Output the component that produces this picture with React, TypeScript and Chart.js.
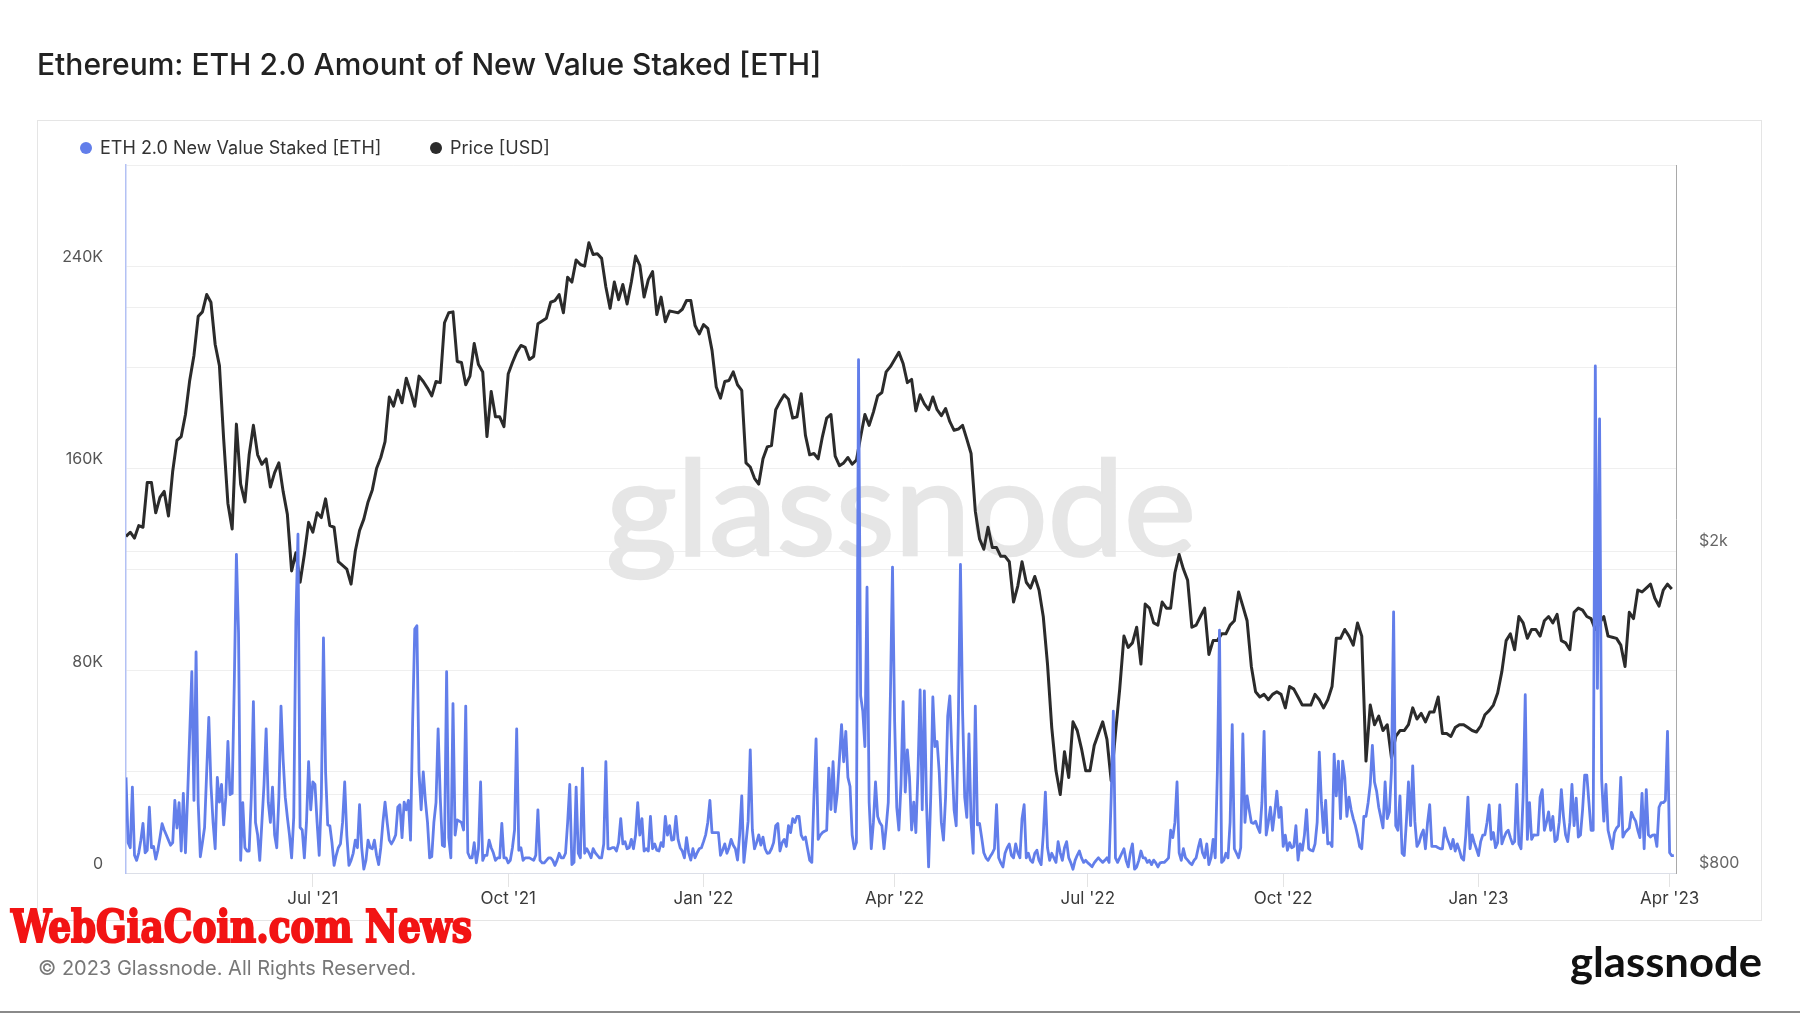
import React, { useEffect, useLayoutEffect, useRef } from "react";
import { Chart, registerables } from "chart.js";

Chart.register(...registerables);

// ---------- DATA ----------
const START_DATE = "2021-04-04";
const TOTAL_DAYS = 730;

const X_TICK_DATES = ["2021-07-01", "2021-10-01", "2022-01-01", "2022-04-01", "2022-07-01", "2022-10-01", "2023-01-01", "2023-04-01"];
const X_TICK_LABELS = ["Jul '21", "Oct '21", "Jan '22", "Apr '22", "Jul '22", "Oct '22", "Jan '23", "Apr '23"];

const STAKED_TICK_VALUES = [0, 80, 160, 240]; // thousand ETH
const STAKED_TICK_LABELS = ["0", "80K", "160K", "240K"];
const STAKED_MAX = 280;
const STAKED_STEP = 40;

const PRICE_GRID_VALUES = [800, 1000, 2000, 4000];
const PRICE_TICK_VALUES = [800, 2000];
const PRICE_TICK_LABELS = ["$800", "$2k"];
const PRICE_MIN = 800;
const PRICE_MAX = 6000;

// ETH 2.0 new value staked, daily, thousand ETH (day 0 = 2021-04-04)
const STAKED_K = [
  37.8, 12, 10, 34, 7, 5, 8, 13, 19.6, 8,
  9, 26, 10, 10.5, 5.5, 9, 14, 19.5, 17, 15,
  13, 11, 12, 28.7, 17.8, 27.8, 8.7, 31.5, 8, 30,
  55, 79.6, 28.7, 87.4, 27.8, 6.4, 12, 18, 40, 61.5,
  35, 20, 9.6, 37.8, 28, 35, 19, 30, 52, 31,
  31.5, 75, 126, 95, 5, 27.8, 10, 8.7, 8.7, 30,
  67.8, 20, 15, 5, 20, 35, 57, 28, 20, 34,
  15, 10, 30, 66, 45, 30, 22, 15, 6, 22,
  100, 134, 18, 17, 6, 20, 44, 25, 36, 35,
  20, 7, 30, 93, 40, 19, 18.7, 12, 3, 7,
  10, 11.5, 20, 36, 15, 3, 5, 7.8, 13, 10,
  27, 10, 1.5, 5, 13, 10, 9.6, 13, 7, 3.3,
  10, 20, 28, 20, 13, 11.5, 13, 15, 26, 27,
  14, 28, 25, 28.7, 13, 60, 96.5, 97.8, 40, 25,
  40, 28.7, 20, 6, 6.5, 20, 27.8, 57, 30, 11,
  10.5, 79.6, 14, 6, 67, 15, 21, 20.5, 20, 17,
  66, 8, 6, 6, 12, 4, 9.6, 36, 5, 7,
  7, 13, 10, 8, 5, 6, 6, 19.6, 6, 6,
  4, 5, 10, 17,
  57, 9, 10, 5, 6, 6,
  6, 5.5, 5, 7, 25, 5, 4, 4, 5, 6,
  6, 5, 3, 5, 7.8, 6, 6, 7.8, 20, 35,
  3.3, 4.2, 34, 7.8, 6, 41.5, 7.8, 9.6, 8, 6,
  9.6, 8, 7, 6, 6, 11.5, 44, 9.6, 9.6, 10,
  10, 8.7, 12, 21.5, 11.5, 12.4, 9.6, 10, 13.3, 9.6,
  15, 27.8, 15, 21.5, 8.7, 9.6, 8.7, 22.4, 9.6, 11.5,
  9, 8.7, 12, 10.5, 22.4, 15, 18.7, 13, 13.3, 22.4,
  13.3, 10, 8.7, 6, 14, 8, 5.1, 9.6, 6, 8,
  9.6, 10, 12.4, 15.1, 20, 28.7, 16, 16, 16, 16,
  7, 9, 11.5, 7.8, 10, 13.3, 11, 9.6, 5.1, 15,
  30.5, 4.2, 12, 20.5, 48.7, 17, 9.6, 12, 15.1, 11,
  14.2, 9.6, 7.8, 8, 9.6, 12, 18.7, 19.6, 8.7, 12,
  13.3, 10.5, 18.7, 16, 21.5, 20, 22.4, 22.4, 15, 13.3,
  14.2, 9.6, 5, 4.2, 30, 53, 13.3, 15, 16, 16.5,
  16.9, 41.5, 25.1, 44, 24.2, 31.5, 45, 58.7, 44, 56,
  37.8, 34.2, 15, 9.6, 12, 203, 70, 64, 50, 113,
  28, 9.6, 20, 36, 22.4, 20, 18.7, 9.6, 18, 27.8,
  70, 121, 60, 26, 17, 35, 67.8, 32, 48.7, 38,
  17, 28, 16, 40, 72.4, 25, 72, 28, 2.4, 30,
  69.6, 50, 52, 40, 20, 13, 30, 62, 70, 46,
  25, 18.7, 60, 122, 64, 30, 22, 55, 20, 7.8,
  66, 19, 19.6, 14, 8, 6, 5, 6.5, 7.8, 9.6,
  27, 6, 4, 2.4, 7.8, 10, 11.5, 7, 6, 11.5,
  8, 6, 21.5, 27, 6, 7.8, 5, 4.2, 7.8, 9,
  5, 3.3, 15, 32, 10, 5, 7.8, 6, 4.2, 12.4,
  8, 5, 10, 12.4, 6, 4, 1.5, 5, 7, 8.7,
  6, 4.2, 5, 4, 3.3, 2.5, 4, 5.1, 6, 5,
  4.2, 5, 6, 4.2, 30, 64, 6, 4.2, 6, 7.8,
  9.6, 5, 2.4, 8, 11.5, 1.5, 2.4, 5, 8.7, 6,
  6, 4.2, 5, 3.3, 5.1, 4, 2.4, 4, 4.2, 4.2,
  5, 6, 16.9, 14, 20, 36, 8, 5, 9.6, 6,
  5.1, 4, 3.3, 5, 6, 10, 13.3, 8, 6, 11.5,
  3.3, 6, 13.3, 6, 40, 96, 4.2, 5, 7.8, 6,
  20, 58.7, 9.6, 7.8, 6, 10, 55, 20, 30.5, 25,
  20, 19.6, 20.5, 18, 16, 28, 56, 15, 20, 26,
  16.9, 24, 32.4, 22, 26, 10.5, 15, 9, 12, 10,
  10.5, 18.7, 5.1, 11.5, 9, 15, 25.1, 9.6, 9, 8.7,
  11.5, 20, 47.8, 28, 16, 28.7, 11.5, 12, 10.5, 47,
  30.5, 44.2, 21.5, 44.2, 37.8, 22.4, 30, 25, 21.5, 18.7,
  15, 10.5, 9.6, 22.4, 22.4, 27.8, 35, 50.5, 36, 32.4,
  26, 22, 17.8, 36, 21.5, 24.2, 40.5, 103.3, 18.7, 16.9,
  30.5, 7.8, 6.9, 20, 36, 18.7, 42.4, 20.5, 10.5, 12,
  15.1, 17, 9.6, 20, 27, 10.5, 10.5, 10.5, 10, 9.6,
  9.6, 17.8, 14.2, 12, 9.6, 13.3, 8.7, 11.5, 9, 6,
  5.1, 15, 30, 9.6, 15.1, 12, 9.6, 6.9, 12.4, 15,
  15.1, 20, 26.9, 13.3, 16, 10, 12, 26.9, 11.5, 14,
  16, 16.9, 14, 11.5, 12.4, 35, 11.5, 9.6, 30, 70.5,
  13.3, 27.8, 13.3, 15.1, 15, 15.1, 30, 33, 16.9, 20,
  24.2, 16.9, 22.4, 12.4, 13.3, 20, 33, 22.4, 15.1, 12.4,
  20, 35, 18.7, 29.6, 14.2, 15, 25, 38.7, 38.7, 27.8,
  16.9, 16.9, 200.5, 73, 179.6, 36.9, 20.5, 35, 16.9, 13.3,
  9.6, 16, 17.8, 18.7, 37.8, 14.2, 16, 16.9, 17.8, 24,
  22, 20.5, 16.9, 14, 31.5, 9.6, 33, 15.1, 14.2, 15,
  15.1, 10.5, 26, 27.8, 27.8, 28.7, 56, 8, 6.9, 6.9,
];

// ETH price in USD, every 2 days (day 0 = 2021-04-04)
const PRICE_STEP_DAYS = 2;
const PRICE_USD = [
  // Apr 2021
  2085, 2110, 2075, 2150, 2140, 2430, 2430, 2230, 2330, 2370, 2210, 2510, 2740, 2770,
  // May
  2950, 3250, 3490, 3900, 3950, 4150, 4060, 3600, 3390, 2750, 2290, 2130, 2870, 2420, 2300,
  // Jun
  2630, 2860, 2630, 2560, 2600, 2400, 2500, 2570, 2370, 2220, 1890, 1990, 1830, 1980, 2170,
  // Jul
  2110, 2230, 2200, 2320, 2150, 2140, 1940, 1920, 1900, 1820, 2000, 2120, 2190, 2300, 2380, 2530,
  // Aug
  2610, 2730, 3100, 3020, 3160, 3050, 3270, 3150, 3020, 3290, 3240, 3180, 3110, 3240, 3230,
  // Sep
  3830, 3940, 3950, 3430, 3420, 3210, 3290, 3610, 3400, 3330, 2770, 3150, 2930, 2930, 2850,
  // Oct
  3310, 3420, 3520, 3590, 3570, 3450, 3480, 3820, 3850, 3880, 4060, 4080, 4150, 3940, 4360, 4300,
  // Nov
  4580, 4520, 4500, 4810, 4650, 4660, 4600, 4240, 3990, 4300, 4090, 4270, 4040, 4300, 4630,
  // Dec
  4510, 4120, 4330, 4430, 3920, 4120, 3840, 3960, 3950, 3940, 3980, 4080, 4080, 3800, 3710,
  // Jan 2022
  3810, 3770, 3540, 3190, 3090, 3240, 3250, 3330, 3210, 3160, 2570, 2540, 2460, 2420, 2600, 2690,
  // Feb
  2700, 2990, 3060, 3120, 3080, 2920, 2930, 3130, 2780, 2630, 2640, 2600, 2770, 2920,
  // Mar
  2950, 2620, 2550, 2570, 2610, 2560, 2590, 2770, 2950, 2860, 2970, 3110, 3140, 3330, 3380,
  // Apr
  3450, 3520, 3410, 3230, 3260, 2980, 3120, 3040, 2990, 3100, 2990, 2940, 3000, 2890, 2820,
  // May
  2830, 2860, 2750, 2640, 2240, 2070, 2010, 2140, 2020, 2020, 1970, 1970, 1940, 1730, 1810, 1940,
  // Jun
  1830, 1800, 1860, 1790, 1660, 1450, 1210, 1070, 1000, 1130, 1050, 1230, 1200, 1140, 1070,
  // Jul
  1070, 1150, 1190, 1230, 1170, 1040, 1190, 1350, 1570, 1520, 1540, 1610, 1450, 1720, 1700,
  // Aug
  1630, 1620, 1730, 1700, 1700, 1880, 1980, 1900, 1840, 1610, 1620, 1660, 1700, 1490, 1550, 1550,
  // Sep
  1580, 1580, 1620, 1640, 1780, 1710, 1640, 1440, 1340, 1320, 1330, 1310, 1330, 1340, 1330,
  // Oct
  1280, 1360, 1350, 1320, 1290, 1290, 1290, 1330, 1310, 1280, 1310, 1360, 1560, 1560, 1600,
  // Nov
  1570, 1530, 1630, 1570, 1100, 1290, 1220, 1250, 1200, 1220, 1110, 1180, 1200, 1200, 1220,
  // Dec
  1280, 1240, 1260, 1230, 1265, 1265, 1320, 1190, 1190, 1180, 1210, 1220, 1220, 1210, 1200, 1195,
  // Jan 2023
  1215, 1255, 1270, 1290, 1335, 1420, 1550, 1580, 1510, 1660, 1630, 1560, 1600, 1600, 1570,
  // Feb
  1640, 1660, 1630, 1670, 1550, 1540, 1510, 1680, 1700, 1690, 1660, 1650, 1600, 1630,
  // Mar
  1660, 1570, 1565, 1560, 1530, 1440, 1680, 1650, 1790, 1780, 1800, 1820, 1750, 1710, 1790, 1820,
  // Apr
  1795,
];

const TITLE = "Ethereum: ETH 2.0 Amount of New Value Staked [ETH]";
const SERIES_NAMES = ["ETH 2.0 New Value Staked [ETH]", "Price [USD]"];
const SERIES_COLORS = ["#627EEA", "#2b2b2b"];

// ---------- HELPERS ----------
const dayOffset = (d: string) => Math.round((Date.parse(d) - Date.parse(START_DATE)) / 86400000);
const X_TICK_DAYS = X_TICK_DATES.map(dayOffset);

const FONT = "Inter, 'Noto Sans', sans-serif";

const watermarkPlugin = {
  id: "glassnodeWatermark",
  beforeDatasetsDraw(chart: any) {
    const { ctx, chartArea } = chart;
    ctx.save();
    ctx.font = "400 132px Lato, 'Noto Sans', sans-serif";
    ctx.fillStyle = "#e6e6e6";
    ctx.textAlign = "left";
    ctx.textBaseline = "alphabetic";
    const text = "glassnode";
    const w = ctx.measureText(text).width;
    const targetW = 590;
    const cx = (chartArea.left + chartArea.right) / 2;
    ctx.translate(cx - targetW / 2, chartArea.top + 390);
    ctx.scale(targetW / w, 1);
    ctx.lineWidth = 2.5;
    ctx.strokeStyle = "#e6e6e6";
    ctx.strokeText(text, 0, 0);
    ctx.fillText(text, 0, 0);
    ctx.restore();
  },
};

function FitText(props: { text: string; width: number; style: React.CSSProperties; origin?: string }) {
  const ref = useRef<HTMLDivElement | null>(null);
  useLayoutEffect(() => {
    const el = ref.current;
    if (!el) return;
    el.style.transform = "none";
    const w = el.getBoundingClientRect().width;
    if (w > 0) el.style.transform = `scaleX(${props.width / w})`;
  }, [props.text, props.width]);
  return (
    <div
      ref={ref}
      style={{ position: "absolute", whiteSpace: "nowrap", transformOrigin: props.origin || "left top", ...props.style }}
    >
      {props.text}
    </div>
  );
}

export default function App() {
  const canvasRef = useRef<HTMLCanvasElement | null>(null);

  useEffect(() => {
    const canvas = canvasRef.current;
    if (!canvas) return;
    const stakedData = STAKED_K.map((v, i) => ({ x: i, y: v }));
    const priceData = PRICE_USD.map((v, i) => ({ x: i * PRICE_STEP_DAYS, y: v }));

    const chart = new Chart(canvas, {
      type: "line",
      data: {
        datasets: [
          {
            label: SERIES_NAMES[0],
            data: stakedData,
            yAxisID: "yStaked",
            borderColor: SERIES_COLORS[0],
            backgroundColor: SERIES_COLORS[0],
            borderWidth: 2.8,
            pointRadius: 0,
            tension: 0,
            borderJoinStyle: "round",
            fill: false,
          },
          {
            label: SERIES_NAMES[1],
            data: priceData,
            yAxisID: "yPrice",
            borderColor: SERIES_COLORS[1],
            backgroundColor: SERIES_COLORS[1],
            borderWidth: 3,
            pointRadius: 0,
            tension: 0,
            borderJoinStyle: "round",
            fill: false,
          },
        ],
      },
      options: {
        animation: false,
        responsive: false,
        devicePixelRatio: 1,
        layout: { padding: { left: 36, right: 44, top: 165, bottom: 100 } },
        plugins: { legend: { display: false }, tooltip: { enabled: false } },
        scales: {
          x: {
            type: "linear",
            min: 0,
            max: TOTAL_DAYS,
            afterBuildTicks: (scale: any) => {
              scale.ticks = X_TICK_DAYS.map((v) => ({ value: v }));
            },
            afterFit: (scale: any) => {
              scale.height = 40;
            },
            ticks: {
              autoSkip: false,
              maxRotation: 0,
              padding: 2,
              color: "#3a3a3a",
              font: { family: FONT, size: 17 },
              callback: (value: any) => {
                const i = X_TICK_DAYS.indexOf(Number(value));
                return i >= 0 ? X_TICK_LABELS[i] : "";
              },
            },
            grid: { drawOnChartArea: false, drawTicks: true, tickLength: 14, color: "#e3e3e3" },
            border: { color: "#dcdfe8", width: 1 },
          },
          yStaked: {
            type: "linear",
            position: "left",
            min: 0,
            max: STAKED_MAX,
            afterFit: (scale: any) => {
              scale.width = 90;
            },
            ticks: {
              stepSize: STAKED_STEP,
              padding: 23,
              labelOffset: -9,
              color: "#555",
              font: { family: FONT, size: 16 },
              callback: (value: any) => {
                const i = STAKED_TICK_VALUES.indexOf(Number(value));
                return i >= 0 ? STAKED_TICK_LABELS[i] : "";
              },
            },
            grid: { color: "#efefef", drawTicks: false },
            border: { color: "#b3c1f4", width: 1.5 },
          },
          yPrice: {
            type: "logarithmic",
            position: "right",
            min: PRICE_MIN,
            max: PRICE_MAX,
            afterBuildTicks: (scale: any) => {
              scale.ticks = PRICE_GRID_VALUES.map((v) => ({ value: v }));
            },
            afterFit: (scale: any) => {
              scale.width = 80;
            },
            ticks: {
              padding: 23,
              labelOffset: -10,
              color: "#666",
              font: { family: FONT, size: 16 },
              callback: (value: any) => {
                const i = PRICE_TICK_VALUES.indexOf(Number(value));
                return i >= 0 ? PRICE_TICK_LABELS[i] : "";
              },
            },
            grid: { color: "#efefef", drawTicks: false },
            border: { color: "#a9a9a9", width: 1 },
          },
        },
      } as any,
      plugins: [watermarkPlugin],
    });
    return () => chart.destroy();
  }, []);

  const dot = (color: string, cx: number, cy: number): React.CSSProperties => ({
    position: "absolute",
    left: cx - 6,
    top: cy - 6,
    width: 12,
    height: 12,
    borderRadius: "50%",
    background: color,
  });

  return (
    <div
      style={{
        position: "absolute",
        left: 0,
        top: 0,
        width: 1800,
        height: 1013,
        background: "#ffffff",
        overflow: "hidden",
        fontFamily: FONT,
      }}
    >
      {/* card box */}
      <div
        style={{
          position: "absolute",
          left: 37,
          top: 120,
          width: 1725,
          height: 801,
          boxSizing: "border-box",
          border: "1px solid #e5e5e5",
          zIndex: 0,
        }}
      />
      {/* title */}
      <div
        style={{
          position: "absolute",
          left: 37,
          top: 46,
          fontSize: 30,
          lineHeight: "36px",
          fontWeight: 500,
          color: "#222",
          whiteSpace: "nowrap",
          zIndex: 2,
        }}
      >
        {TITLE}
      </div>
      {/* legend */}
      <div style={{ ...dot(SERIES_COLORS[0], 86, 148), zIndex: 2 }} />
      <div
        style={{
          position: "absolute",
          left: 100,
          top: 137,
          fontSize: 18,
          lineHeight: "22px",
          color: "#333",
          whiteSpace: "nowrap",
          zIndex: 2,
        }}
      >
        {SERIES_NAMES[0]}
      </div>
      <div style={{ ...dot(SERIES_COLORS[1], 436, 148), zIndex: 2 }} />
      <div
        style={{
          position: "absolute",
          left: 450,
          top: 137,
          fontSize: 18,
          lineHeight: "22px",
          color: "#333",
          whiteSpace: "nowrap",
          zIndex: 2,
        }}
      >
        {SERIES_NAMES[1]}
      </div>

      <canvas
        ref={canvasRef}
        width={1800}
        height={1013}
        style={{ position: "absolute", left: 0, top: 0, width: 1800, height: 1013, zIndex: 1 }}
      />

      {/* red overlay text */}
      <FitText
        text="WebGiaCoin.com News"
        width={461}
        style={{
          left: 11,
          top: 901,
          fontFamily: "'DejaVu Serif Condensed', 'DejaVu Serif', serif",
          fontStretch: "condensed",
          fontWeight: 700,
          fontSize: 45,
          lineHeight: "52px",
          color: "#f21414",
          WebkitTextStroke: "2px #f21414",
          zIndex: 3,
        }}
      />
      {/* footer */}
      <div
        style={{
          position: "absolute",
          left: 38,
          top: 956,
          fontSize: 20,
          lineHeight: "24px",
          color: "#777",
          whiteSpace: "nowrap",
          zIndex: 2,
        }}
      >
        © 2023 Glassnode. All Rights Reserved.
      </div>
      {/* logo */}
      <FitText
        text="glassnode"
        width={192}
        origin="left top"
        style={{
          left: 1570,
          top: 936,
          fontFamily: "Lato, 'Noto Sans', sans-serif",
          fontWeight: 700,
          fontSize: 42,
          lineHeight: "50px",
          color: "#111",
          zIndex: 2,
        }}
      />
      {/* bottom rule */}
      <div style={{ position: "absolute", left: 0, top: 1011, width: 1800, height: 2, background: "#8a8a8a", zIndex: 2 }} />
    </div>
  );
}
